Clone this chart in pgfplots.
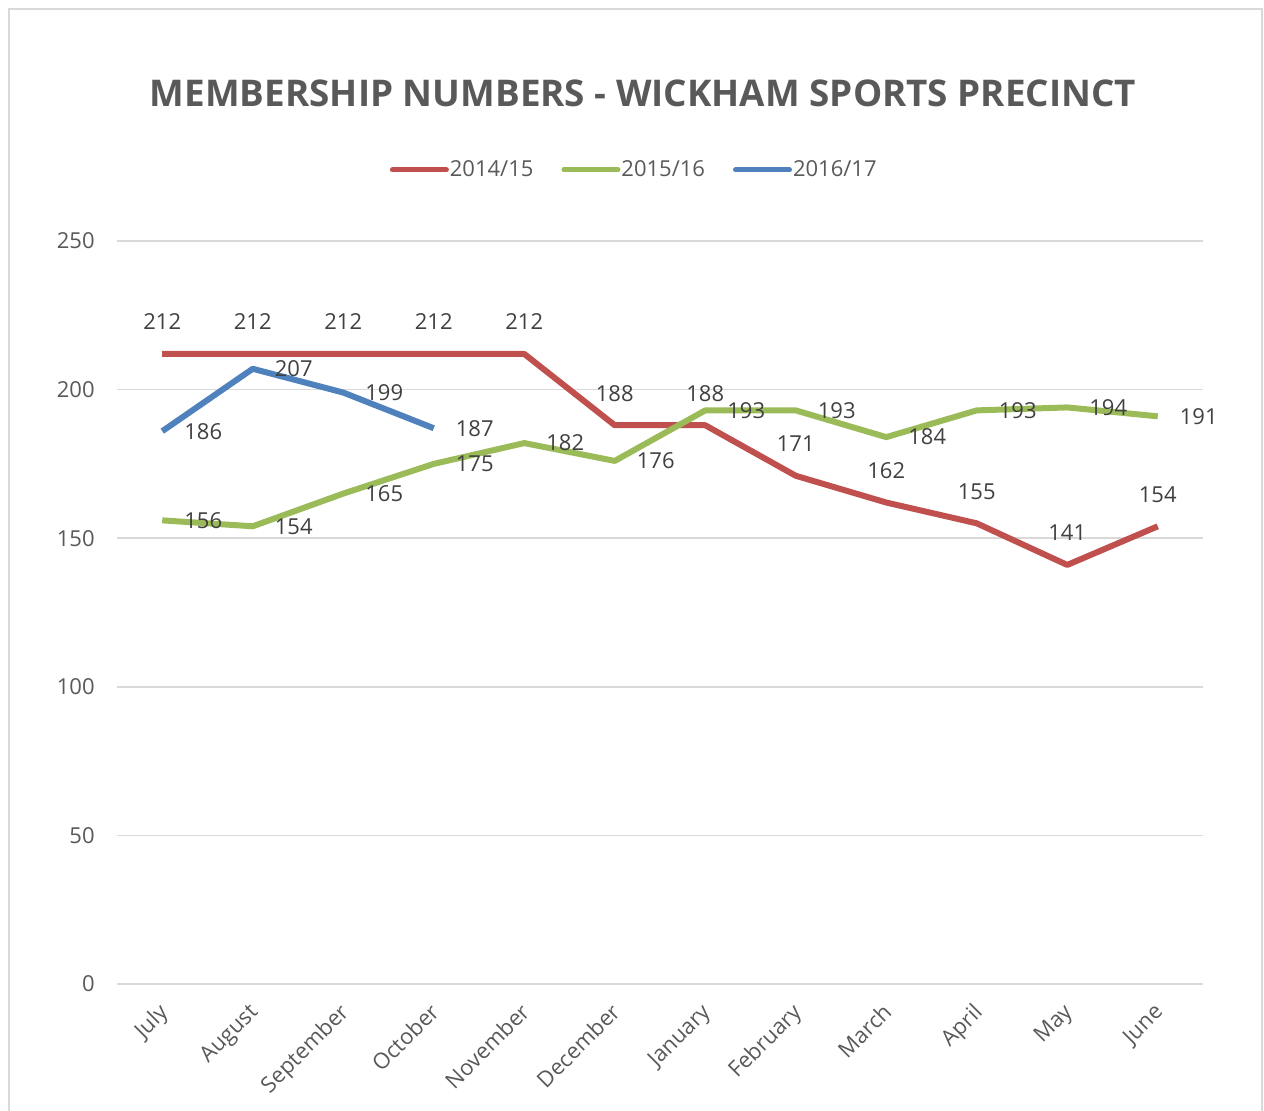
\documentclass[border=0pt]{standalone}
\usepackage{fontspec}
\setmainfont{Open Sans}
\usepackage{pgfplots}
\pgfplotsset{compat=1.18}
\definecolor{cred}{RGB}{192,80,77}
\definecolor{cgreen}{RGB}{155,187,89}
\definecolor{cblue}{RGB}{79,129,189}
\definecolor{cgrid}{RGB}{217,217,217}
\definecolor{ctxt}{RGB}{89,89,89}
\definecolor{clab}{RGB}{64,64,64}
\begin{document}
\begin{tikzpicture}
\path[use as bounding box] (0pt,0pt) rectangle (632pt,555.5pt);
\draw[cgrid, line width=0.75pt] (4.5pt,-10pt) -- (4.5pt,551pt) -- (631pt,551pt) -- (631pt,-10pt);
\node[font=\fontsize{18.4}{22}\selectfont\bfseries, text=ctxt] at (321.5pt,509pt) {MEMBERSHIP NUMBERS - WICKHAM SPORTS PRECINCT};
\begin{axis}[
  at={(58.5pt,63.5pt)}, anchor=south west,
  width=543pt, height=371.5pt, scale only axis,
  xmin=-0.5, xmax=11.5, ymin=0, ymax=250,
  xtick={0,...,11},
  xticklabels={July,August,September,October,November,December,January,February,March,April,May,June},
  ytick={0,50,100,150,200,250},
  major tick length=0pt,
  axis x line*=bottom, axis y line*=left,
  x axis line style={cgrid, line width=0.75pt, -},
  y axis line style={draw=none},
  ymajorgrids, grid style={cgrid, line width=0.75pt},
  /pgf/number format/assume math mode=true,
  tick label style={font=\fontsize{11}{13}\selectfont, text=ctxt},
  xticklabel style={rotate=45, anchor=north east, inner sep=0pt, yshift=-4.4pt, xshift=-8pt},
  yticklabel style={anchor=east, inner sep=0pt, xshift=-11pt},
  yticklabel={\pgfmathprintnumber{\tick}},
  legend columns=3,
  legend style={at={(0.4772,1.0956)}, anchor=center, draw=none, fill=none,
    font=\fontsize{11}{13}\selectfont, text=ctxt,
    /tikz/every even column/.append style={column sep=12pt},
    /tikz/every odd column/.append style={column sep=-1.5pt},
    inner sep=0pt},
  legend image code/.code={\draw[#1, line cap=round, line width=2.5pt] (0pt,0pt) -- (27pt,0pt);},
  nodes near coords,
  every node near coord/.append style={font=\fontsize{11}{13}\selectfont, text=clab, anchor=center},
  clip=false,
]
\addplot[cred, line width=3pt, line join=round, every node near coord/.append style={yshift=16pt}] coordinates {
(0,212) (1,212) (2,212) (3,212) (4,212) (5,188) (6,188) (7,171) (8,162) (9,155) (10,141) (11,154)};
\addlegendentry{2014/15}
\addplot[cgreen, line width=3pt, line join=round, every node near coord/.append style={xshift=20.5pt}] coordinates {
(0,156) (1,154) (2,165) (3,175) (4,182) (5,176) (6,193) (7,193) (8,184) (9,193) (10,194) (11,191)};
\addlegendentry{2015/16}
\addplot[cblue, line width=3pt, line join=round, every node near coord/.append style={xshift=20.5pt}] coordinates {
(0,186) (1,207) (2,199) (3,187)};
\addlegendentry{2016/17}
\end{axis}
\end{tikzpicture}
\end{document}
